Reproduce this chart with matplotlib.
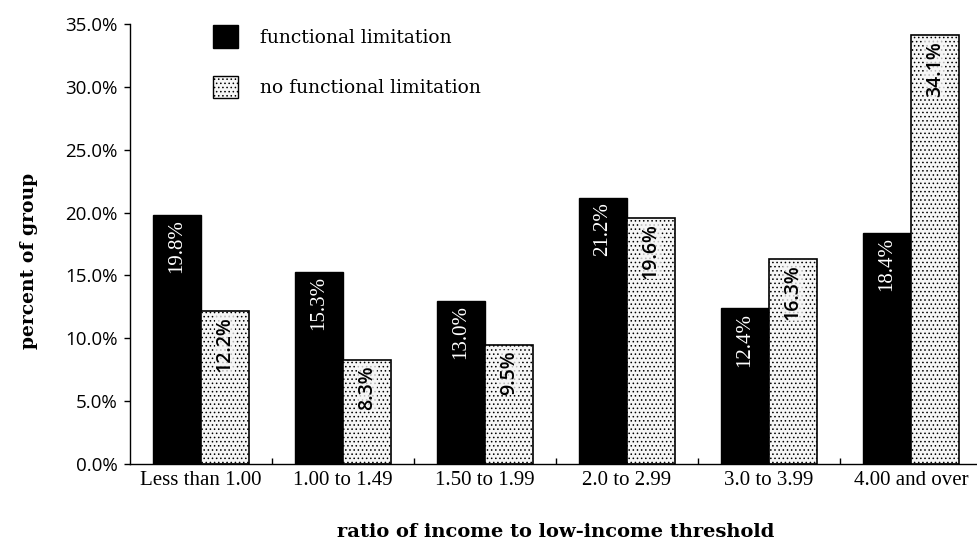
import numpy as np
import matplotlib.pyplot as plt
from matplotlib.patches import Patch
from matplotlib.ticker import FuncFormatter

# Data
categories = ['Less than 1.00', '1.00 to 1.49', '1.50 to 1.99',
              '2.0 to 2.99', '3.0 to 3.99', '4.00 and over']
functional = [19.8, 15.3, 13.0, 21.2, 12.4, 18.4]
no_functional = [12.2, 8.3, 9.5, 19.6, 16.3, 34.1]

serif = ['Liberation Serif', 'DejaVu Serif']
wide_serif = ['DejaVu Serif']
sans = ['Open Sans', 'DejaVu Sans']

plt.rcParams['hatch.color'] = '#a8a8a8'
plt.rcParams['hatch.linewidth'] = 0.6

fig = plt.figure(figsize=(9.77, 5.46), dpi=100)
ax = fig.add_axes([0.133, 0.150, 0.872, 0.806])

x = np.arange(len(categories))
w = 0.338

b1 = ax.bar(x - w / 2, functional, width=w, color='black',
            edgecolor='black', linewidth=1)
b2 = ax.bar(x + w / 2, no_functional, width=w, color='#f6f6f6',
            edgecolor='black', linewidth=1.2, hatch='....')

# value labels inside bars, rotated
for rect, v in zip(b1, functional):
    ax.text(rect.get_x() + rect.get_width() / 2, v - 0.35, '%.1f%%' % v,
            rotation=90, ha='center', va='top', color='white',
            fontsize=15, family=serif)
for rect, v in zip(b2, no_functional):
    ax.text(rect.get_x() + rect.get_width() / 2, v - 0.45, '%.1f%%' % v,
            rotation=90, ha='center', va='top', color='black',
            fontsize=14, family=sans, fontweight='semibold',
            bbox=dict(facecolor='#f6f6f6', edgecolor='none', alpha=0.75,
                      pad=0.3))

ax.set_xlim(-0.5, 5.5)
ax.set_ylim(0, 35)
ax.set_yticks(np.arange(0, 35.1, 5))
ax.yaxis.set_major_formatter(FuncFormatter(lambda v, p: '%.1f%%' % v))

ax.set_xticks(x)
ax.set_xticklabels(categories, family=serif, fontsize=15)
ax.set_xticks(np.arange(0.5, 5.5, 1), minor=True)
ax.tick_params(axis='x', which='major', length=0, pad=5)
ax.tick_params(axis='x', which='minor', direction='in', length=4, width=1)
ax.tick_params(axis='y', direction='out', length=4, width=1, labelsize=13.5,
               pad=5)
for lab in ax.get_yticklabels():
    lab.set_family(sans)

ax.spines['top'].set_visible(False)
ax.spines['right'].set_visible(False)
ax.spines['left'].set_linewidth(1)
ax.spines['bottom'].set_linewidth(1)

ax.set_xlabel('ratio of income to low-income threshold', family=wide_serif,
              fontsize=14, fontweight='bold', labelpad=24)
ax.set_ylabel('percent of group', family=wide_serif, fontsize=13.5,
              fontweight='bold')
ax.yaxis.set_label_coords(-0.108, 0.462)

handles = [Patch(facecolor='black', edgecolor='black'),
           Patch(facecolor='#f6f6f6', edgecolor='black', hatch='....')]
ax.legend(handles, ['functional limitation', 'no functional limitation'],
          loc='upper left', bbox_to_anchor=(0.078, 1.035), frameon=False,
          prop={'family': wide_serif, 'size': 13.5}, handlelength=1.3,
          handleheight=1.5, labelspacing=1.45, handletextpad=1.2)

plt.savefig('out.png')
